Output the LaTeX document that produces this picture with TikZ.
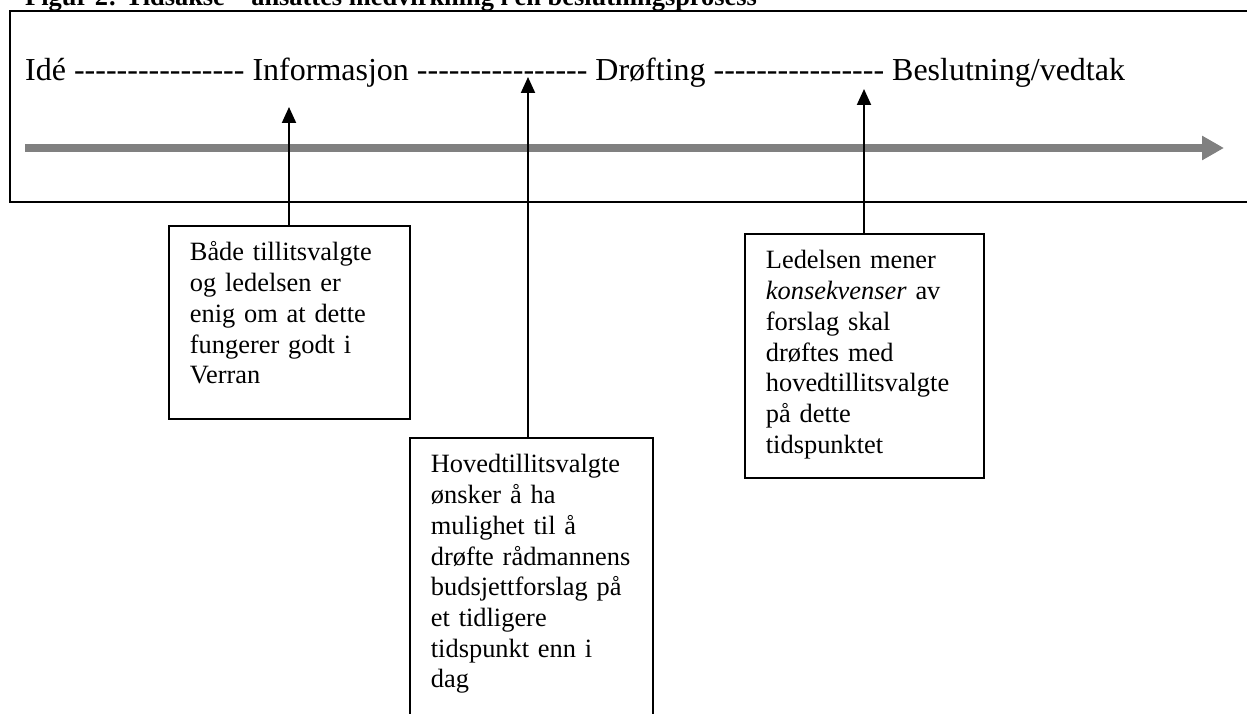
\documentclass[tikz,border=0pt]{standalone}
\usepackage{fontspec}
\setmainfont{Liberation Serif}[Ligatures=TeXOff]
\usetikzlibrary{arrows.meta}
\newcommand\gaptop[1]{\rule{0pt}{#1pt}}
\newcommand\gapbot[1]{\rule[-#1pt]{0pt}{#1pt}}
\begin{document}
\begin{tikzpicture}[x=1pt,y=-1pt,
  frame/.style={line width=2.5pt},
  titletext/.style={font=\bfseries\fontsize{26.4}{30}\selectfont, inner sep=0pt, anchor=base west},
  phase/.style={font=\fontsize{32}{36}\selectfont, inner sep=0pt, anchor=base west},
  note/.style={draw, line width=1.8pt, inner xsep=21pt, inner ysep=0pt, align=left, anchor=north west, font=\fontsize{26.4}{30.7}\selectfont},
  pointer/.style={line width=2pt, -{Triangle[length=16pt,width=14pt]}},
  timeline/.style={line width=8pt, draw=gray, -{Triangle[length=22pt,width=23pt]}}
]
\useasboundingbox (0,0) rectangle (1247,714);
\node[titletext] (title) at (25,6) {Figur 2: Tidsakse – ansattes medvirkning i en beslutningsprosess};
\draw[frame] (10,11) rectangle (1262,202);
\node[phase] (phases) at (25,81) {Idé ---------------- Informasjon ---------------- Drøfting ---------------- Beslutning/vedtak};
\coordinate (tlstart) at (25,148);
\coordinate (tlend) at (1224,148);
\draw[timeline] (tlstart) -- (tlend);
\node[note, text width=199pt] (b1) at (168,225) {\gaptop{35}Både tillitsvalgte\\ og ledelsen er\\ enig om at dette\\ fungerer godt i\\ Verran\gapbot{35}};
\node[note, text width=201pt] (b2) at (409,437) {\gaptop{35}Hovedtillitsvalgte\\ ønsker å ha\\ mulighet til å\\ drøfte rådmannens\\ budsjettforslag på\\ et tidligere\\ tidspunkt enn i\\ dag\gapbot{35}};
\node[note, text width=197pt] (b3) at (744,233) {\gaptop{35}Ledelsen mener\\ \textit{konsekvenser} av\\ forslag skal\\ drøftes med\\ hovedtillitsvalgte\\ på dette\\ tidspunktet\gapbot{25}};
\coordinate (t1) at (289,107);
\coordinate (t2) at (528,77);
\coordinate (t3) at (864,89);
\draw[pointer] (t1 |- b1.north) -- (t1);
\draw[pointer] (t2 |- b2.north) -- (t2);
\draw[pointer] (t3 |- b3.north) -- (t3);
\end{tikzpicture}
\end{document}
